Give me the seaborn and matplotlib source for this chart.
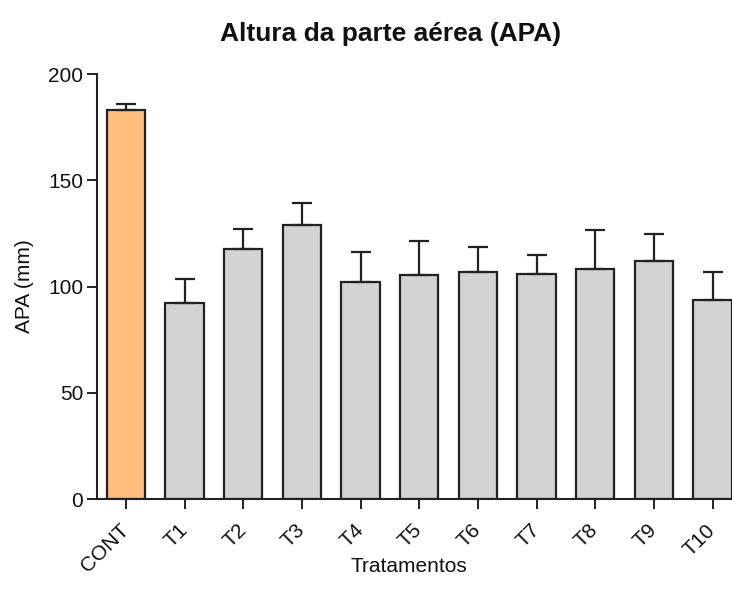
import numpy as np
import pandas as pd
import matplotlib
matplotlib.use("Agg")
import matplotlib.pyplot as plt
import seaborn as sns

categories = ["CONT", "T1", "T2", "T3", "T4", "T5", "T6", "T7", "T8", "T9", "T10"]
means = [183.3, 92.5, 117.5, 128.9, 102.4, 105.5, 106.8, 105.9, 108.1, 112.0, 93.7]
errors = [2.4, 11.3, 9.7, 10.3, 14.1, 16.0, 11.9, 8.8, 18.4, 12.7, 13.4]
yticks = [0, 50, 100, 150, 200]

sns.set_style("ticks")
plt.rcParams["font.family"] = ["Liberation Sans", "DejaVu Sans"]

df = pd.DataFrame({"trat": categories, "apa": means})
palette = {c: ("#FFBE7D" if c == "CONT" else "#D3D3D3") for c in categories}

fig = plt.figure(figsize=(7.32, 6.03), dpi=100)
ax = fig.add_axes([97 / 732, 103.7 / 603, 1 - 97 / 732, (499.3 - 74) / 603])

sns.barplot(data=df, x="trat", y="apa", hue="trat", palette=palette, legend=False,
            width=0.654, edgecolor="#222222", linewidth=1.6, ax=ax, errorbar=None,
            saturation=1)
ax.errorbar(np.arange(len(categories)), means,
            yerr=[np.zeros(len(errors)), errors], fmt="none",
            ecolor="#222222", elinewidth=1.6, capsize=7.2, capthick=1.6, zorder=1)

ax.set_xlim(-0.494, 10.33)
ax.set_ylim(0, 200)
ax.set_yticks(yticks)
ax.set_yticklabels([str(t) for t in yticks], fontsize=15, color="#111111")
ax.set_xticks(range(len(categories)))
ax.set_xticklabels(categories, fontsize=15, rotation=45, ha="right",
                   va="center", rotation_mode="anchor", color="#111111")
ax.tick_params(axis="both", length=7, width=1.4, color="#222222", pad=3)
ax.tick_params(axis="x", pad=13)
for s in ["top", "right"]:
    ax.spines[s].set_visible(False)
for s in ["left", "bottom"]:
    ax.spines[s].set_linewidth(1.5)
    ax.spines[s].set_color("#222222")

ax.set_xlabel("")
ax.set_ylabel("")
fig.text(25 / 732, 1 - 286 / 603, "APA (mm)", rotation=90, fontsize=15,
         ha="center", va="center", color="#111111")
fig.text(409 / 732, 1 - 566 / 603, "Tratamentos", fontsize=15,
         ha="center", va="center", color="#111111")
fig.text(391 / 732, 1 - 34 / 603, "Altura da parte aérea (APA)", fontsize=19,
         fontweight="bold", ha="center", va="center", color="#111111")

fig.savefig("out.png", dpi=100)
